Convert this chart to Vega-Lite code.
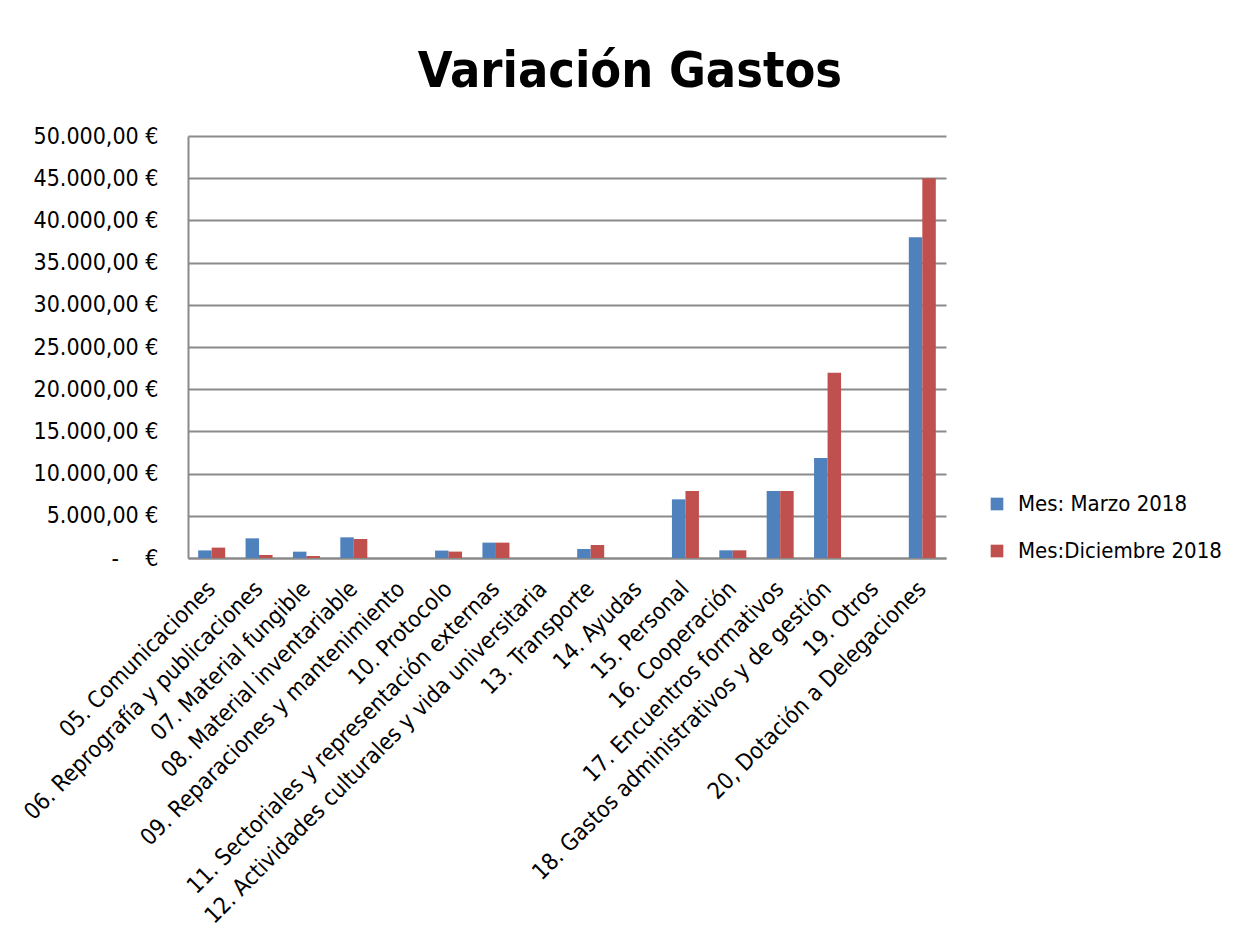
{
  "$schema": "https://vega.github.io/schema/vega-lite/v6.json",
  "autosize": "none",
  "width": 758,
  "height": 422,
  "padding": {"left": 188, "top": 136, "right": 313, "bottom": 387},
  "background": "white",
  "title": {
    "text": "Variación Gastos",
    "font": "'DejaVu Sans Condensed', Roboto, sans-serif",
    "fontSize": 50,
    "fontWeight": "bold",
    "color": "black",
    "anchor": "middle",
    "dx": 63,
    "offset": 28
  },
  "data": {
    "values": [
      {"cat": "05. Comunicaciones", "serie": "Mes: Marzo 2018", "v": 900},
      {"cat": "05. Comunicaciones", "serie": "Mes:Diciembre 2018", "v": 1230},
      {"cat": "06. Reprografía y publicaciones", "serie": "Mes: Marzo 2018", "v": 2330},
      {"cat": "06. Reprografía y publicaciones", "serie": "Mes:Diciembre 2018", "v": 360},
      {"cat": "07. Material fungible", "serie": "Mes: Marzo 2018", "v": 750},
      {"cat": "07. Material fungible", "serie": "Mes:Diciembre 2018", "v": 240},
      {"cat": "08. Material inventariable", "serie": "Mes: Marzo 2018", "v": 2450},
      {"cat": "08. Material inventariable", "serie": "Mes:Diciembre 2018", "v": 2250},
      {"cat": "09. Reparaciones y mantenimiento", "serie": "Mes: Marzo 2018", "v": 0},
      {"cat": "09. Reparaciones y mantenimiento", "serie": "Mes:Diciembre 2018", "v": 0},
      {"cat": "10. Protocolo", "serie": "Mes: Marzo 2018", "v": 880},
      {"cat": "10. Protocolo", "serie": "Mes:Diciembre 2018", "v": 760},
      {"cat": "11. Sectoriales y representación externas", "serie": "Mes: Marzo 2018", "v": 1820},
      {"cat": "11. Sectoriales y representación externas", "serie": "Mes:Diciembre 2018", "v": 1820},
      {"cat": "12. Actividades culturales y vida universitaria", "serie": "Mes: Marzo 2018", "v": 0},
      {"cat": "12. Actividades culturales y vida universitaria", "serie": "Mes:Diciembre 2018", "v": 0},
      {"cat": "13. Transporte", "serie": "Mes: Marzo 2018", "v": 1070},
      {"cat": "13. Transporte", "serie": "Mes:Diciembre 2018", "v": 1540},
      {"cat": "14. Ayudas", "serie": "Mes: Marzo 2018", "v": 0},
      {"cat": "14. Ayudas", "serie": "Mes:Diciembre 2018", "v": 0},
      {"cat": "15. Personal", "serie": "Mes: Marzo 2018", "v": 6950},
      {"cat": "15. Personal", "serie": "Mes:Diciembre 2018", "v": 7940},
      {"cat": "16. Cooperación", "serie": "Mes: Marzo 2018", "v": 910},
      {"cat": "16. Cooperación", "serie": "Mes:Diciembre 2018", "v": 910},
      {"cat": "17. Encuentros formativos", "serie": "Mes: Marzo 2018", "v": 7940},
      {"cat": "17. Encuentros formativos", "serie": "Mes:Diciembre 2018", "v": 7940},
      {"cat": "18. Gastos administrativos y de gestión", "serie": "Mes: Marzo 2018", "v": 11850},
      {"cat": "18. Gastos administrativos y de gestión", "serie": "Mes:Diciembre 2018", "v": 21950},
      {"cat": "19. Otros", "serie": "Mes: Marzo 2018", "v": 0},
      {"cat": "19. Otros", "serie": "Mes:Diciembre 2018", "v": 0},
      {"cat": "20, Dotación a Delegaciones", "serie": "Mes: Marzo 2018", "v": 38000},
      {"cat": "20, Dotación a Delegaciones", "serie": "Mes:Diciembre 2018", "v": 45000}
    ]
  },
  "mark": {"type": "bar", "stroke": null},
  "encoding": {
    "x": {
      "field": "cat",
      "type": "nominal",
      "sort": null,
      "title": null,
      "scale": {"paddingInner": 0.43, "paddingOuter": 0.215},
      "axis": {
        "labelAngle": -45,
        "labelAlign": "right",
        "labelBaseline": "middle",
        "labelFont": "'DejaVu Sans Condensed', Roboto, sans-serif",
        "labelFontSize": 23,
        "labelColor": "black",
        "labelPadding": 27,
        "labelLimit": 0,
        "ticks": false,
        "domainColor": "#8a8a8a",
        "domainWidth": 2,
        "grid": false
      }
    },
    "xOffset": {"field": "serie", "type": "nominal", "sort": ["Mes: Marzo 2018", "Mes:Diciembre 2018"]},
    "y": {
      "field": "v",
      "type": "quantitative",
      "title": null,
      "scale": {"domain": [0, 50000], "nice": false},
      "axis": {
        "values": [0, 5000, 10000, 15000, 20000, 25000, 30000, 35000, 40000, 45000, 50000],
        "labelExpr": "datum.value == 0 ? '-\u00a0\u00a0\u00a0\u00a0€' : replace(format(datum.value, ',.0f'), ',', '.') + ',00 €'",
        "labelFont": "'DejaVu Sans Condensed', Roboto, sans-serif",
        "labelFontSize": 23,
        "labelColor": "black",
        "labelPadding": 30,
        "ticks": false,
        "domainColor": "#8a8a8a",
        "domainWidth": 2,
        "grid": true,
        "gridColor": "#8a8a8a",
        "gridWidth": 2
      }
    },
    "color": {
      "field": "serie",
      "type": "nominal",
      "sort": ["Mes: Marzo 2018", "Mes:Diciembre 2018"],
      "scale": {"domain": ["Mes: Marzo 2018", "Mes:Diciembre 2018"], "range": ["#4F81BD", "#C0504D"]},
      "legend": {
        "title": null,
        "orient": "none",
        "legendX": 798,
        "legendY": 357,
        "symbolType": "square",
        "symbolSize": 160,
        "symbolStrokeWidth": 0,
        "labelFont": "'DejaVu Sans Condensed', Roboto, sans-serif",
        "labelFontSize": 22,
        "labelColor": "black",
        "labelLimit": 0,
        "rowPadding": 25,
        "labelOffset": 10
      }
    }
  },
  "config": {"view": {"stroke": null}}
}
